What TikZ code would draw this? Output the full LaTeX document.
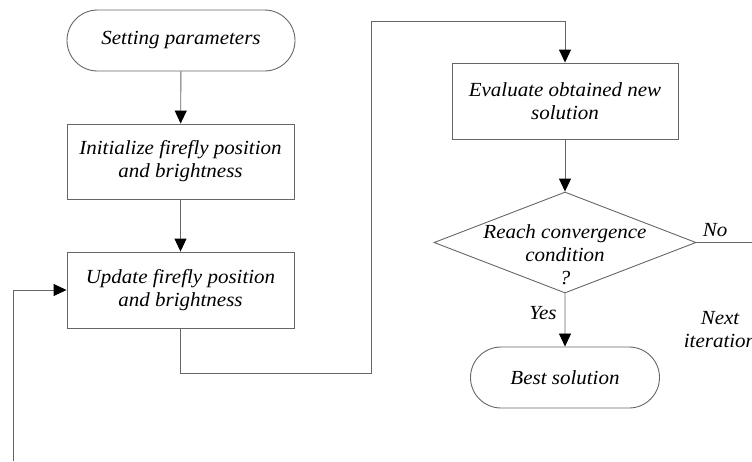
\documentclass[tikz,border=0pt]{standalone}
\usepackage{fontspec}
\setmainfont{Liberation Serif}[FakeStretch=1.05]
\usetikzlibrary{arrows.meta,shapes.misc,shapes.geometric}

\newcommand\flowfont{\fontsize{20}{23}\selectfont\itshape}

\tikzset{
  line/.style={draw=black!60, line width=0.9pt},
  arr/.style={line, -{Triangle[length=13pt,width=12pt,color=black]}},
  terminal/.style={rounded rectangle, line, font=\flowfont, inner sep=0pt},
  process/.style={rectangle, line, font=\flowfont, align=center, inner sep=0pt},
  decision/.style={diamond, line, inner sep=0pt},
  lbl/.style={font=\flowfont, align=center, inner sep=0pt}
}

\begin{document}
\begin{tikzpicture}[x=1pt, y=-1pt]
        \useasboundingbox (0,0) rectangle (752,461);

        % Left column
        \node[terminal, minimum width=228pt, minimum height=61pt] (setp) at (181,40.5) {Setting parameters};
        \node[process, minimum width=227pt, minimum height=75pt] (init) at (180.5,161.5) {Initialize firefly position\\and brightness};
        \node[process, minimum width=227pt, minimum height=76pt] (update) at (180.5,290) {Update firefly position\\and brightness};

        % Right column
        \node[process, minimum width=226pt, minimum height=76pt] (eval) at (565,101) {Evaluate obtained new\\solution};
        \node[decision, minimum width=262pt, minimum height=101pt] (conv) at (565,242.5) {};
        \node[lbl] (convtext) at (565,255) {Reach convergence\\condition\\?};
        \node[terminal, minimum width=189pt, minimum height=61pt] (best) at (565,377.5) {Best solution};

        % Labels
        \node[lbl] (yes) at (543,313) {Yes};
        \node[lbl] (no) at (715,230) {No};
        \node[lbl] (next) at (720,330) {Next\\iteration};

        % Bends and free ends
        \coordinate (bendlow) at (371,373);
        \coordinate (bendtop) at (371,21);
        \coordinate (noend) at (752,242.5);
        \coordinate (loopstart) at (13,461);

        % Connectors
        \draw[arr] (setp) -- (init);
        \draw[arr] (init) -- (update);
        \draw[arr] (update.south) |- (bendlow) -- (bendtop) -| (eval.north);
        \draw[arr] (eval) -- (conv);
        \draw[arr] (conv.south) -- (best);
        \draw[line] (conv.east) -- (noend);
        \draw[arr] (loopstart) |- (update.west);
    \end{tikzpicture}
\end{document}
